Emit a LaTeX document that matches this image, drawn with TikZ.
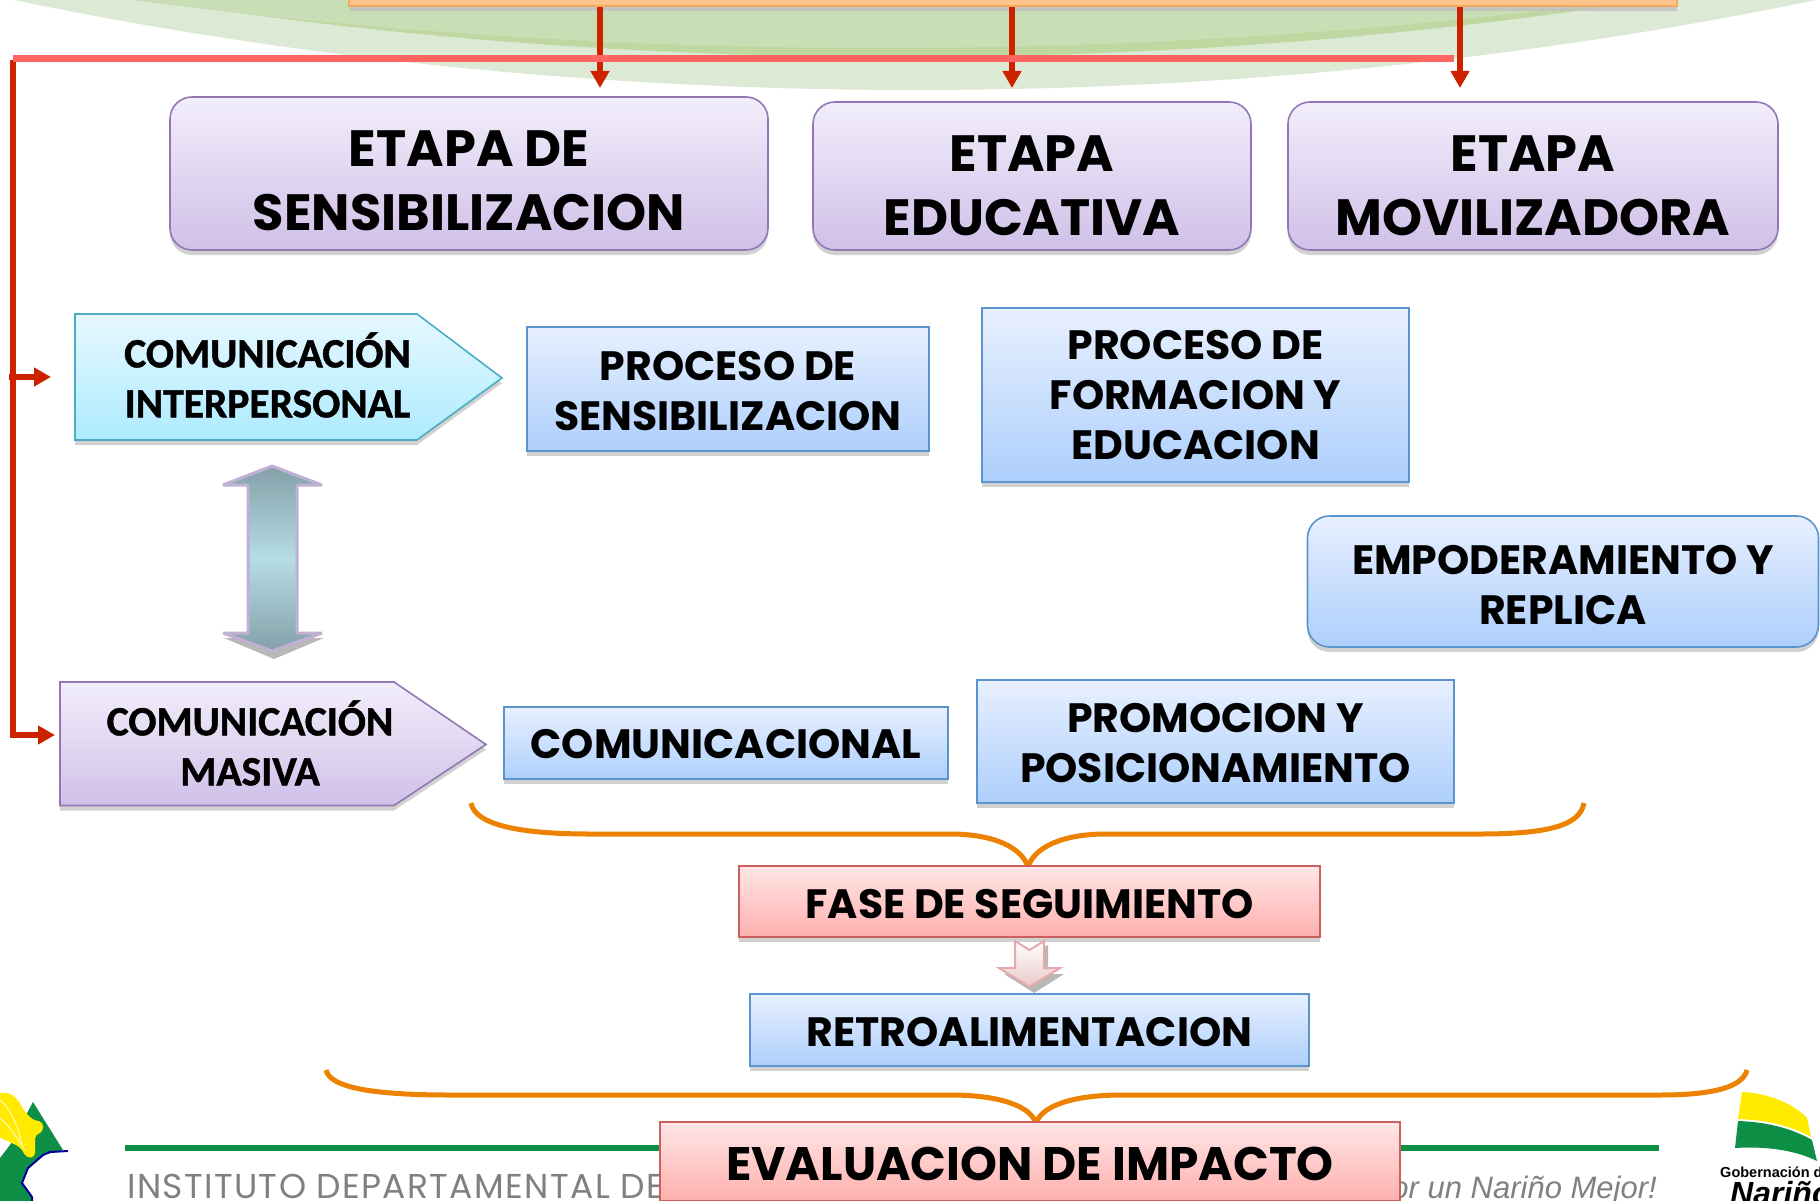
\documentclass[tikz,border=0pt]{standalone}
\usepackage{fontspec}
\setmainfont{Poppins}
\newfontfamily\calfont{Carlito}[BoldFont={Carlito Bold},BoldFeatures={FakeBold=1.2}]
\newfontfamily\libfont{Liberation Sans}
\usetikzlibrary{arrows.meta,shadows}
\newcommand\hgt[1]{\rule{0pt}{#1pt}}
\definecolor{redline}{HTML}{CC2200}
\definecolor{redbar}{HTML}{FF6660}
\definecolor{orng}{HTML}{EC8200}
\definecolor{blueb}{HTML}{5B94CC}
\definecolor{blue1}{HTML}{E8F0FF}
\definecolor{blue2}{HTML}{ADCFFC}
\definecolor{redb}{HTML}{CC605C}
\definecolor{red1}{HTML}{FFE6E6}
\definecolor{red2}{HTML}{FFB0AE}
\definecolor{purp}{HTML}{9277B4}
\definecolor{pur1}{HTML}{F2EEFB}
\definecolor{pur2}{HTML}{D0C0E8}
\definecolor{cy1}{HTML}{E6F8FF}
\definecolor{cy2}{HTML}{ADEBFF}
\definecolor{cyb}{HTML}{4BACC6}
\definecolor{dk1}{HTML}{84A0A8}
\definecolor{dk2}{HTML}{B5DCE5}
\definecolor{lil}{HTML}{C0B0D4}
\definecolor{pinkb}{HTML}{E8C8C8}
\definecolor{pinkd}{HTML}{E6A8A8}
\definecolor{g1}{HTML}{DCE9D5}
\definecolor{g2}{HTML}{C9DEB5}
\definecolor{g3}{HTML}{BFD8A2}
\definecolor{gline}{HTML}{0E8F46}
\definecolor{topfill}{HTML}{FFC48C}
\definecolor{topedge}{HTML}{F5A860}
\definecolor{logoy}{HTML}{FFEA00}
\tikzset{
 x=1pt,y=-1pt,
 boxshadow/.style={drop shadow={shadow xshift=0pt,shadow yshift=-5pt,fill=black!18,opacity=1}},
 shapebox/.style n args={3}{draw=#1,line width=1.6pt,top color=#2,bottom color=#3,boxshadow,align=center,inner sep=0pt,text=black},
 bluebox/.style={rectangle,shapebox={blueb}{blue1}{blue2}},
 redbox/.style={rectangle,shapebox={redb}{red1}{red2}},
 purplebox/.style={rectangle,rounded corners=22pt,shapebox={purp}{pur1}{pur2}},
 redarrow/.style={draw=redline,line width=5.5pt,-{Triangle[length=17pt,width=18pt]}},
 bracepath/.style={draw=orng,line width=5pt},
 bigtxt/.style={font=\fontsize{51}{64}\selectfont\bfseries},
 midtxt/.style={font=\fontsize{41}{50}\selectfont\bfseries},
 caltxt/.style={font=\calfont\bfseries\fontsize{41.5}{50}\selectfont},
}
\begin{document}
\begin{tikzpicture}
\useasboundingbox (0,0) rectangle (1820,1201);
% green backdrop
\begin{scope}
\clip (0,0) rectangle (1820,200);
\fill[g1] (915,-1410) ellipse [x radius=2635,y radius=1500];
\fill[g3] (900,-1443) ellipse [x radius=2739,y radius=1500];
\fill[g2] (880,-1452) ellipse [x radius=2970,y radius=1500];
% top box
\fill[black!25,opacity=.8] (349,0) rectangle (1677,11);
\fill[topfill] (349,0) rectangle (1677,6);
\draw[topedge,line width=1.6pt] (349,-2) rectangle (1677,6);
\end{scope}
\coordinate (t1) at (600,7);\coordinate (a1) at (600,88);
\coordinate (t2) at (1012,7);\coordinate (a2) at (1012,88);
\coordinate (t3) at (1460,7);\coordinate (a3) at (1460,88);
\coordinate (bl) at (13,58.5);\coordinate (br) at (1454,58.5);
\coordinate (vt) at (12.7,60);\coordinate (vb) at (12.7,735);
\coordinate (s1a) at (9,377);\coordinate (s1b) at (51,377);
\coordinate (s2a) at (10,735);\coordinate (s2b) at (55,735);
\draw[redarrow] (t1)--(a1);
\draw[redarrow] (t2)--(a2);
\draw[redarrow] (t3)--(a3);
\draw[redline,line width=6pt] (vt)--(vb);
\draw[redbar,line width=6.5pt] (bl)--(br);
\draw[redarrow] (s1a)--(s1b);
\draw[redarrow] (s2a)--(s2b);
% stage boxes
\node[purplebox,bigtxt,minimum width=598pt,minimum height=153pt] (e1) at (469,173.5) {\hgt{51}ETAPA DE\\SENSIBILIZACION};
\node[purplebox,bigtxt,minimum width=438pt,minimum height=148pt] (e2) at (1032,176) {\hgt{56}ETAPA\\EDUCATIVA};
\node[purplebox,bigtxt,minimum width=490pt,minimum height=148pt] (e3) at (1533,176) {\hgt{56}ETAPA\\MOVILIZADORA};
% pentagons
\path[top color=cy1,bottom color=cy2,draw=cyb,line width=1.6pt,boxshadow] (75,314)--(417,314)--(502,378)--(417,440)--(75,440)--cycle;
\node[caltxt,align=center] (p1) at (267.5,375) {COMUNICACIÓN\\INTERPERSONAL};
\path[top color=pur1,bottom color=pur2,draw=purp,line width=1.6pt,boxshadow] (60,682)--(394,682)--(486,744.5)--(394,805.5)--(60,805.5)--cycle;
\node[caltxt,align=center] (p2) at (250,743) {COMUNICACIÓN\\MASIVA};
% double arrow
\fill[black!28] (274,659)--(324,638)--(297,638)--(297,610)--(248,610)--(248,638)--(224,638)--cycle;
\path[top color=dk1,bottom color=dk1,middle color=dk2,draw=lil,line width=3pt,line join=bevel]
 (272,466)--(322,485)--(297,485)--(297,633)--(322,633)--(272,651)--(223,633)--(248,633)--(248,485)--(223,485)--cycle;
\node[bluebox,midtxt,minimum width=402pt,minimum height=124pt] (n1) at (728,389) {\hgt{34}PROCESO DE\\SENSIBILIZACION};
\node[bluebox,midtxt,minimum width=427pt,minimum height=174pt] (n2) at (1195.5,395) {PROCESO DE\\FORMACION Y\\EDUCACION};
\node[rectangle,rounded corners=22pt,shapebox={blueb}{blue1}{blue2},midtxt,minimum width=511pt,minimum height=131pt] (n3) at (1563,581.5) {\hgt{35.5}EMPODERAMIENTO Y\\REPLICA};
\node[bluebox,midtxt,minimum width=444pt,minimum height=72pt] (n4) at (726,743) {\hgt{32}COMUNICACIONAL};
\node[bluebox,midtxt,minimum width=477pt,minimum height=123pt] (n5) at (1215.5,741.5) {\hgt{32}PROMOCION Y\\POSICIONAMIENTO};
% footer
\coordinate (gl) at (125,1148);\coordinate (gr) at (1659,1148);
\draw[gline,line width=6pt] (gl)--(gr);
\node[anchor=base west,inner sep=0pt,text depth=0pt,text=black!50,font=\addfontfeature{LetterSpace=4}\fontsize{34.5}{34.5}\selectfont] (inst) at (127,1198) {INSTITUTO DEPARTAMENTAL DE};
\node[anchor=base east,inner sep=0pt,text=black!50,font=\libfont\itshape\fontsize{31}{31}\selectfont] (pu) at (1657,1198) {or un Nariño Mejor!};
% left logo
\begin{scope}
\clip (0,1080) rectangle (120,1201);
\fill[gline] (33,1102)--(63,1150)--(43,1155)--(28,1168)--(22,1183)--(32,1197)--(32,1201)--(0,1201)--(0,1158)--(10,1145)--cycle;
\draw[blue!60!black,line width=2pt] (68,1151)--(50,1152)--(43,1155)--(28,1168)--(22,1183)--(32,1197)--(32,1201);
\fill[logoy,rounded corners=4pt] (-5,1093)--(10,1093)--(18,1100)--(25,1112)--(33,1120)--(43,1122)--(43,1132)--(35,1135)--(35,1157)--(27,1158)--(20,1147)--(-5,1135)--cycle;
\draw[white,line width=.7pt] (0,1100) .. controls (10,1108) and (18,1125) .. (22,1145);
\draw[white,line width=.7pt] (0,1118) .. controls (8,1124) and (15,1135) .. (25,1150);
\end{scope}
% right logo
\begin{scope}
\clip (1700,1080) rectangle (1820,1201);
\fill[logoy] (1742,1092) .. controls (1770,1093) and (1795,1105) .. (1807,1118)--(1811,1137) .. controls (1790,1125) and (1765,1120) .. (1738,1119)--cycle;
\fill[gline] (1738,1121) .. controls (1770,1122) and (1795,1130) .. (1812,1140)--(1817,1161) .. controls (1795,1150) and (1765,1146) .. (1735,1148)--cycle;
\node[anchor=base west,inner sep=0pt,font=\libfont\bfseries\fontsize{14.5}{14.5}\selectfont] (gob) at (1720,1177) {Gobernación de};
\node[anchor=base west,inner sep=0pt,font=\libfont\bfseries\itshape\fontsize{32}{32}\selectfont] (nar) at (1730,1204) {Nariño};
\end{scope}
% braces
\draw[bracepath] (471,803) .. controls (475,825) and (520,834) .. (590,834) -- (950,834) .. controls (995,834) and (1022,848) .. (1028,867) .. controls (1034,848) and (1061,834) .. (1106,834) -- (1480,834) .. controls (1550,834) and (1580,825) .. (1584,803);
\node[redbox,midtxt,minimum width=581pt,minimum height=71pt] (f) at (1029.5,901.5) {\hgt{34}FASE DE SEGUIMIENTO};
\fill[black!35,opacity=.8] (1020,945)--(1034,953)--(1048,945)--(1048,974)--(1064,974)--(1034,993)--(1004,974)--(1020,974)--cycle;
\path[top color=white,bottom color=pinkb,draw=pinkd,line width=2pt] (1015,941)--(1029.5,950)--(1044,941)--(1044,968)--(1060,968)--(1029.5,987)--(999,968)--(1015,968)--cycle;
\node[bluebox,midtxt,minimum width=559pt,minimum height=72pt] (r) at (1029.5,1030) {\hgt{34}RETROALIMENTACION};
\draw[bracepath] (326,1070) .. controls (330,1088) and (375,1095) .. (450,1095) -- (950,1095) .. controls (1000,1095) and (1030,1106) .. (1036,1123) .. controls (1042,1106) and (1072,1095) .. (1122,1095) -- (1660,1095) .. controls (1720,1095) and (1743,1085) .. (1747,1070);
\node[redbox,font=\fontsize{47}{47}\selectfont\bfseries,minimum width=740pt,minimum height=79pt] (ev) at (1030,1161.5) {\hgt{38.5}EVALUACION DE IMPACTO};
\end{tikzpicture}
\end{document}
